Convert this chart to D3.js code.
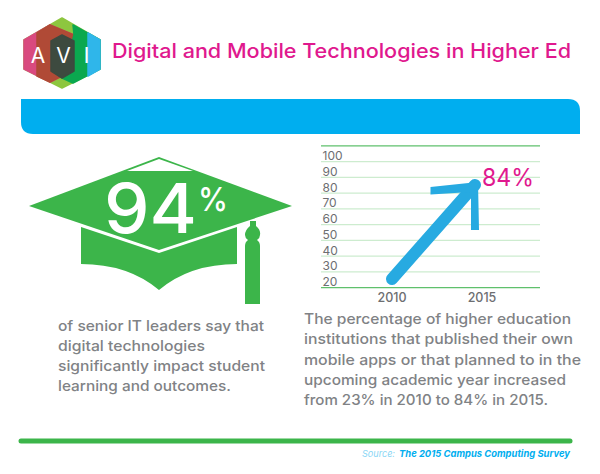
<!DOCTYPE html>
<html>
<head>
<meta charset="utf-8">
<script src="https://cdn.jsdelivr.net/npm/d3@7"></script>
<style>
html, body { margin: 0; padding: 0; background: #fff; }
svg { display: block; }
text { font-family: Inter, "Open Sans", sans-serif; }
</style>
</head>
<body>
<svg id="display" width="600" height="474"></svg>
<script>
var ticks = [100, 90, 80, 70, 60, 50, 40, 30, 20];
var growth = [{ year: 2010, value: 23 }, { year: 2015, value: 84 }];
var leftText = [
    { t: "of senior IT leaders say that", w: 206, y: 331 },
    { t: "digital technologies", w: 147, y: 351 },
    { t: "significantly impact student", w: 207, y: 371 },
    { t: "learning and outcomes.", w: 173, y: 391 }];
var rightText = [
    { t: "The percentage of higher education", w: 267, y: 324 },
    { t: "institutions that published their own", w: 269, y: 344 },
    { t: "mobile apps or that planned to in the", w: 277, y: 365 },
    { t: "upcoming academic year increased", w: 262, y: 385 },
    { t: "from 23% in 2010 to 84% in 2015.", w: 244, y: 405 }];
var GREEN = "#3cb54a", BLUE = "#00aeef", PINK = "#e0188e", GREY = "#808285";

var canvas = d3.select("#display");
var line = d3.line();

function label(parent, str, x, y, size, fill, width, weight) {
    return parent.append("text").text(str)
	.attr("x", x).attr("y", y)
	.attr("font-size", size + "px").attr("fill", fill)
	.attr("font-weight", weight || 400)
	.attr("textLength", width).attr("lengthAdjust", "spacingAndGlyphs");
}

// logo
var logo = canvas.append("g").attr("stroke-linejoin", "round");
function poly(pts, fill) {
    logo.append("path").attr("d", line(pts) + "Z").attr("fill", fill)
	.attr("stroke", fill).attr("stroke-width", 1.5);
}
poly([[24, 40], [62, 18], [100, 40], [100, 69], [62, 88], [24, 69]], "#8dc63f");
poly([[24, 40], [50, 25], [74, 35], [74, 70], [50, 82], [24, 69]], "#d94a7f");
poly([[37, 33], [50, 25], [74, 35], [74, 70], [50, 82], [37, 76]], "#b04a36");
poly([[74, 35], [73, 25], [100, 40], [100, 69], [73, 83], [62, 78]], "#0ba84f");
poly([[88, 33], [100, 40], [100, 69], [88, 76]], "#2fb6ea");
poly([[51, 41], [62, 35], [74, 41], [74, 71], [62, 78], [51, 71]], "#3d4a3f");
[["A", 38], ["V", 63.5], ["I", 86.5]].forEach(function(d) {
    logo.append("text").text(d[0]).attr("x", d[1]).attr("y", 63)
	.attr("text-anchor", "middle").attr("font-size", "21px").attr("fill", "#fff");
});

label(canvas, "Digital and Mobile Technologies in Higher Ed", 112, 57.5, 20, PINK, 459, 500);

// blue band
canvas.append("path")
    .attr("d", "M21 99H568Q580 99 580 111V134H33Q21 134 21 122Z")
    .attr("fill", BLUE);

// mortarboard
var cap = canvas.append("g").attr("fill", GREEN);
cap.append("path").attr("d", line([[29, 206], [159, 157], [292, 206], [159, 250]]) + "Z");
cap.append("path").attr("d", line([[127, 171], [159, 159], [193, 171]]) + "Z").attr("fill", "#fff");
cap.append("path").attr("d", "M81 227L159 253L237 227V264Q190 264 159 290Q128 264 81 264Z");
cap.append("path").attr("d", "M250 221H256V226Q261 230 260 235Q260 238 257 240Q260 242 260 246V304H245V246Q245 242 248 240Q245 238 245 235Q245 230 250 226Z");
label(canvas, "94", 104, 233, 69, "#fff", 93, 500);
label(canvas, "%", 198, 211, 33, "#fff", 30, 500);

leftText.forEach(function(d) { label(canvas, d.t, 58, d.y, 14.5, GREY, d.w, 500); });

// chart
var chart = canvas.append("g");
var x = d3.scalePoint().domain([2010, 2015]).range([392, 482]);
var y = d3.scaleLinear().domain([20, 100]).range([281.7, 155.7]);
var lineOffset = 6;

chart.selectAll("line.grid").data([110].concat(ticks)).enter().append("line")
    .attr("class", "grid")
    .attr("x1", 321).attr("x2", 540)
    .attr("y1", function(d) { return y(d) + lineOffset; })
    .attr("y2", function(d) { return y(d) + lineOffset; })
    .attr("stroke", function(d) { return (d == 110 || d == 20) ? "#5fc06c" : "#cdeccf"; })
    .attr("stroke-width", 1.2);

chart.selectAll("text.tick").data(ticks).enter().append("text")
    .attr("class", "tick").text(function(d) { return d; })
    .attr("x", 322.5).attr("y", function(d) { return y(d) + 4.3; })
    .attr("font-size", "12px").attr("fill", "#6d6e71");

chart.selectAll("text.year").data(growth).enter().append("text")
    .attr("class", "year").text(function(d) { return d.year; })
    .attr("x", function(d) { return x(d.year); }).attr("y", 301.7)
    .attr("text-anchor", "middle").attr("font-size", "12.5px").attr("font-weight", 500)
    .attr("fill", "#6d6e71");

var tail = [x(2010), y(growth[0].value) + 2];
var tip = [x(2015) - 4, y(growth[1].value) + 1];
chart.append("path")
    .attr("d", line([tail, [tip[0] - 3, tip[1] + 3]]))
    .attr("stroke", "#27aae1").attr("stroke-width", 12).attr("stroke-linecap", "round");
chart.append("path")
    .attr("d", line([tip, [tip[0] - 47.5, tip[1] + 5], [tip[0] - 47.5, tip[1] + 12.5], [tip[0] - 7, tip[1] + 10],
	[tip[0] - 7, tip[1] + 48], [tip[0] + 1, tip[1] + 48]]) + "Z")
    .attr("fill", "#27aae1");

chart.append("text").text(growth[1].value + "%")
    .attr("x", 482).attr("y", 186)
    .attr("font-size", "24px").attr("fill", PINK)
    .attr("textLength", 52).attr("lengthAdjust", "spacingAndGlyphs");

rightText.forEach(function(d) { label(canvas, d.t, 304, d.y, 14.5, GREY, d.w, 500); });

// footer
canvas.append("line").attr("x1", 21).attr("x2", 570).attr("y1", 441).attr("y2", 441)
    .attr("stroke", GREEN).attr("stroke-width", 5).attr("stroke-linecap", "round");
canvas.append("text").attr("x", 362).attr("y", 457).attr("font-size", "9.5px")
    .attr("fill", "#8ad6f5").attr("font-style", "italic")
    .attr("textLength", 33).attr("lengthAdjust", "spacingAndGlyphs").text("Source:");
canvas.append("text").attr("x", 399).attr("y", 457).attr("font-size", "9.5px")
    .attr("fill", BLUE).attr("font-style", "italic").attr("font-weight", 700)
    .attr("textLength", 171).attr("lengthAdjust", "spacingAndGlyphs")
    .text("The 2015 Campus Computing Survey");
</script>
</body>
</html>
